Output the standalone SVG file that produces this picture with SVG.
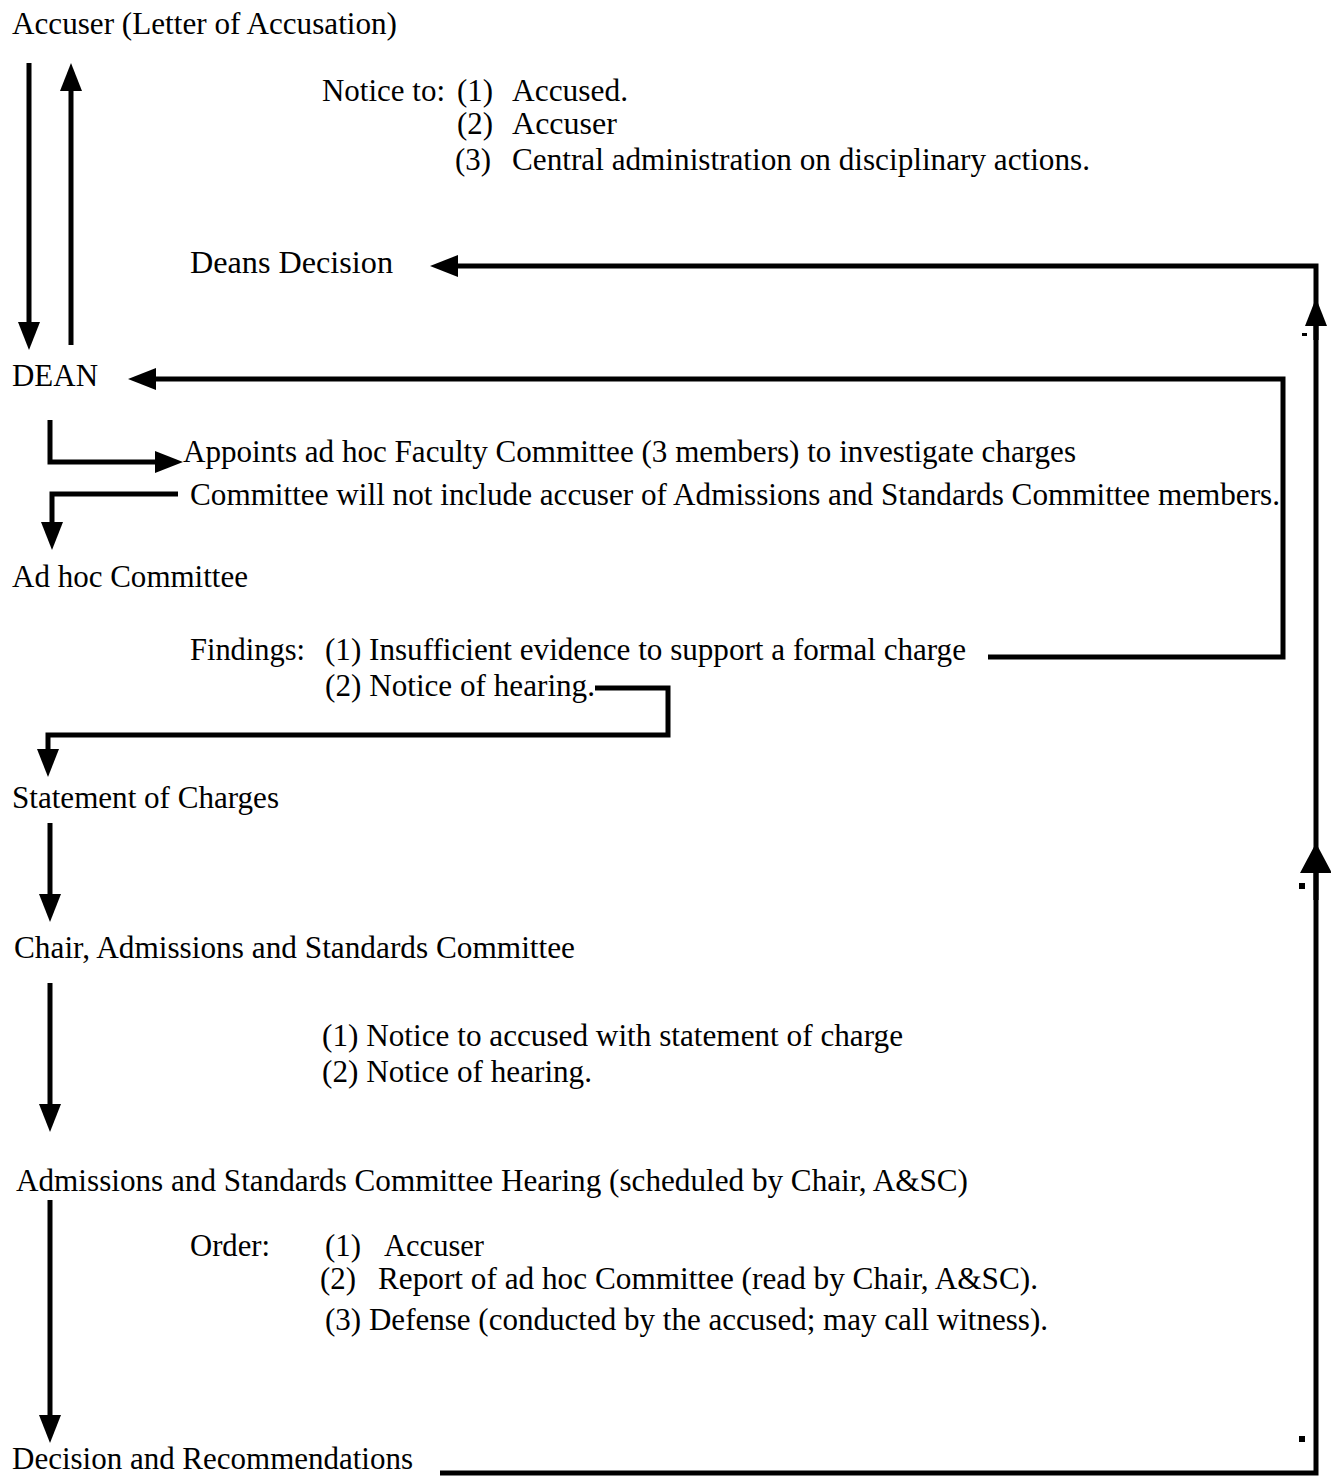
<svg xmlns="http://www.w3.org/2000/svg" width="1331" height="1478" viewBox="0 0 1331 1478">
<style>
text{font-family:"Liberation Serif","Times New Roman",serif;font-size:31px;fill:#000}
.c{fill:none;stroke:#000;stroke-width:5;stroke-linejoin:miter}
.a{marker-end:url(#ah)}
.b{marker-end:url(#ahb)}
</style>
<defs>
<marker id="ah" markerUnits="userSpaceOnUse" markerWidth="28" markerHeight="22" refX="18" refY="11" orient="auto"><path d="M0,0 L28,11 L0,22 Z" fill="#000"/></marker>
<marker id="ahb" markerUnits="userSpaceOnUse" markerWidth="30" markerHeight="32" refX="20" refY="16" orient="auto"><path d="M0,0 L30,16 L0,32 Z" fill="#000"/></marker>
</defs>
<rect width="1331" height="1478" fill="#fff"/>
<g id="connectors">
<path class="c a" d="M29,63 L29,340"/>
<path class="c a" d="M71,345 L71,73"/>
<path class="c a" d="M440,1473 L1316,1473 L1316,266 L440,266"/>
<path class="c b" d="M1316,900 L1316,853"/>
<path class="c a" d="M1316,340 L1316,308"/>
<path class="c a" d="M988,657 L1283,657 L1283,379 L138,379"/>
<path class="c a" d="M50,420 L50,462 L173,462"/>
<path class="c a" d="M178,494 L52,494 L52,540"/>
<path class="c a" d="M595,688 L668,688 L668,735 L48,735 L48,767"/>
<path class="c a" d="M50,823 L50,912"/>
<path class="c a" d="M50,983 L50,1122"/>
<path class="c a" d="M50,1200 L50,1433"/>
<rect x="1302" y="333" width="5" height="3" fill="#000"/>
<rect x="1299" y="883" width="6" height="6" fill="#000"/>
<rect x="1299" y="1436" width="6" height="6" fill="#000"/>
</g>
<g id="accuser"><text x="12" y="34" textLength="385" lengthAdjust="spacingAndGlyphs">Accuser (Letter of Accusation)</text></g>
<g id="notice">
<text x="322" y="101" textLength="123" lengthAdjust="spacingAndGlyphs">Notice to:</text>
<text x="457" y="101" textLength="36" lengthAdjust="spacingAndGlyphs">(1)</text>
<text x="512" y="101" textLength="116" lengthAdjust="spacingAndGlyphs">Accused.</text>
<text x="457" y="134" textLength="36" lengthAdjust="spacingAndGlyphs">(2)</text>
<text x="512" y="134" textLength="105" lengthAdjust="spacingAndGlyphs">Accuser</text>
<text x="455" y="170" textLength="36" lengthAdjust="spacingAndGlyphs">(3)</text>
<text x="512" y="170" textLength="578" lengthAdjust="spacingAndGlyphs">Central administration on disciplinary actions.</text>
</g>
<g id="deans-decision"><text x="190" y="273" textLength="203" lengthAdjust="spacingAndGlyphs">Deans Decision</text></g>
<g id="dean"><text x="12" y="386" textLength="86" lengthAdjust="spacingAndGlyphs">DEAN</text></g>
<g id="appoints">
<text x="183" y="462" textLength="893" lengthAdjust="spacingAndGlyphs">Appoints ad hoc Faculty Committee (3 members) to investigate charges</text>
<text x="190" y="505" textLength="1090" lengthAdjust="spacingAndGlyphs">Committee will not include accuser of Admissions and Standards Committee members.</text>
</g>
<g id="adhoc"><text x="12" y="587" textLength="236" lengthAdjust="spacingAndGlyphs">Ad hoc Committee</text></g>
<g id="findings">
<text x="190" y="660" textLength="115" lengthAdjust="spacingAndGlyphs">Findings:</text>
<text x="325" y="660" textLength="641" lengthAdjust="spacingAndGlyphs">(1) Insufficient evidence to support a formal charge</text>
<text x="325" y="696" textLength="270" lengthAdjust="spacingAndGlyphs">(2) Notice of hearing.</text>
</g>
<g id="statement"><text x="12" y="808" textLength="267" lengthAdjust="spacingAndGlyphs">Statement of Charges</text></g>
<g id="chair"><text x="14" y="958" textLength="561" lengthAdjust="spacingAndGlyphs">Chair, Admissions and Standards Committee</text></g>
<g id="chair-notices">
<text x="322" y="1046" textLength="581" lengthAdjust="spacingAndGlyphs">(1) Notice to accused with statement of charge</text>
<text x="322" y="1082" textLength="270" lengthAdjust="spacingAndGlyphs">(2) Notice of hearing.</text>
</g>
<g id="hearing"><text x="16" y="1191" textLength="952" lengthAdjust="spacingAndGlyphs">Admissions and Standards Committee Hearing (scheduled by Chair, A&amp;SC)</text></g>
<g id="order">
<text x="190" y="1256" textLength="80" lengthAdjust="spacingAndGlyphs">Order:</text>
<text x="325" y="1256" textLength="36" lengthAdjust="spacingAndGlyphs">(1)</text>
<text x="384" y="1256" textLength="100" lengthAdjust="spacingAndGlyphs">Accuser</text>
<text x="320" y="1289" textLength="36" lengthAdjust="spacingAndGlyphs">(2)</text>
<text x="378" y="1289" textLength="660" lengthAdjust="spacingAndGlyphs">Report of ad hoc Committee (read by Chair, A&amp;SC).</text>
<text x="325" y="1330" textLength="723" lengthAdjust="spacingAndGlyphs">(3) Defense (conducted by the accused; may call witness).</text>
</g>
<g id="decision"><text x="12" y="1469" textLength="401" lengthAdjust="spacingAndGlyphs">Decision and Recommendations</text></g>
</svg>
